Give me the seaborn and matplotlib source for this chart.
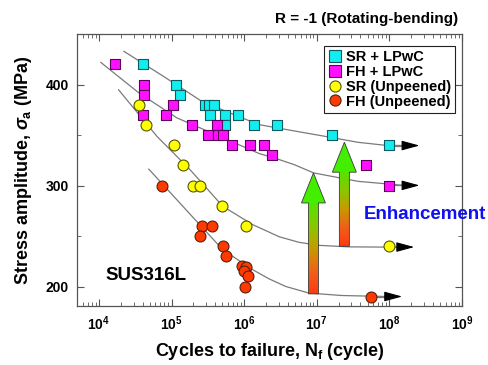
import matplotlib
matplotlib.use("Agg")
import matplotlib.pyplot as plt
import numpy as np
import seaborn as sns
from matplotlib.colors import LinearSegmentedColormap
from matplotlib.lines import Line2D
from matplotlib.patches import Polygon
from matplotlib.ticker import LogLocator, MultipleLocator, NullFormatter

# S-N data: cycles to failure and stress amplitude (MPa)
sr_lpwc_cycles = [4.0e4, 1.15e5, 1.3e5, 2.9e5, 3.3e5, 3.8e5, 3.4e5, 5.4e5, 8.2e5,
                  5.4e5, 1.35e6, 2.8e6, 1.6e7, 1.0e8]
sr_lpwc_stress = [420, 400, 390, 380, 380, 380, 370, 370, 370,
                  360, 360, 360, 350, 340]

fh_lpwc_cycles = [1.67e4, 4.2e4, 4.2e4, 1.05e5, 4.1e4, 8.3e4, 1.9e5, 4.2e5, 3.2e5,
                  4.4e5, 5.1e5, 6.9e5, 1.2e6, 1.9e6, 2.4e6, 4.7e7, 1.0e8]
fh_lpwc_stress = [420, 400, 390, 380, 370, 370, 360, 360, 350,
                  350, 350, 340, 340, 340, 330, 320, 300]

sr_unp_cycles = [3.6e4, 4.5e4, 1.07e5, 1.43e5, 2.0e5, 2.45e5, 4.9e5, 1.05e6, 1.0e8]
sr_unp_stress = [380, 360, 340, 320, 300, 300, 280, 260, 240]

fh_unp_cycles = [7.4e4, 2.6e5, 3.6e5, 2.45e5, 5.1e5, 5.7e5, 9.3e5, 1.05e6, 1.0e6,
                 1.12e6, 1.03e6, 5.6e7]
fh_unp_stress = [300, 260, 260, 250, 240, 230, 221, 220, 216,
                 211, 200, 190]

# trend curves, points
sr_lpwc_curve_x = [2.2e4, 7.8e4, 2.6e5, 8.7e5, 1.6e6, 4.6e6, 1.3e7, 3.7e7, 8.7e7, 1.6e8]
sr_lpwc_curve_y = [433, 408, 383.5, 368, 360.4, 354.5, 348.8, 342.9, 340, 339.7]
fh_lpwc_curve_x = [1.06e4, 3.55e4, 1.19e5, 4.6e5, 1.62e6, 2.47e6, 4.9e6, 9.1e6, 3.7e7, 1.6e8]
fh_lpwc_curve_y = [422, 391.8, 367, 348.8, 331.7, 328, 320.8, 312.6, 304.3, 300.3]
sr_unp_curve_x = [1.86e4, 6.3e4, 1.8e5, 5.1e5, 1.32e6, 3.04e6, 5.7e6, 1.07e7, 2.75e7, 7.8e7, 1.4e8]
sr_unp_curve_y = [395, 348.8, 315.8, 279.5, 261.4, 249.5, 244, 241, 239.5, 239.3, 239.3]
fh_unp_curve_x = [4.85e4, 2.22e5, 5.1e5, 1.32e6, 2.2e6, 3.75e6, 7.8e6, 2.2e7, 9.2e7]
fh_unp_curve_y = [316.5, 264.7, 236.6, 216.8, 207.9, 200.3, 193.8, 191.4, 190.4]

# run-out arrows at the end of each curve
runout_start = [1.6e8, 1.6e8, 1.4e8, 9.2e7]
runout_end = [2.6e8, 2.6e8, 2.2e8, 1.5e8]
runout_level = [339.7, 300.3, 239.3, 190.4]

# enhancement arrows
enh_cycles = [9.0e6, 2.4e7]
enh_from = [193, 240]
enh_to = [312.6, 343]

labels = ["SR + LPwC", "FH + LPwC", "SR (Unpeened)", "FH (Unpeened)"]
colors = ["#11eef0", "#ff11ff", "#ffff00", "#ff3a00"]
edges = ["#0a5a60", "#5a005a", "#555500", "#552010"]
markers = ["s", "s", "o", "o"]

sns.set_style("ticks")
plt.rcParams["font.family"] = ["Liberation Sans", "DejaVu Sans"]
plt.rcParams["font.weight"] = "bold"
plt.rcParams["axes.labelweight"] = "bold"
plt.rcParams["text.color"] = "black"
plt.rcParams["axes.labelcolor"] = "black"
plt.rcParams["xtick.labelcolor"] = "black"
plt.rcParams["ytick.labelcolor"] = "black"
plt.rcParams["mathtext.fontset"] = "custom"
plt.rcParams["mathtext.rm"] = "Liberation Sans:bold"
plt.rcParams["mathtext.it"] = "Liberation Sans:italic:bold"
plt.rcParams["mathtext.bf"] = "Liberation Sans:bold"

fig = plt.figure(figsize=(4.89, 3.65), dpi=100)
ax = fig.add_axes([0.1575, 0.1616, 0.7873, 0.7452])
ax.set_xscale("log")
ax.set_xlim(5e3, 1e9)
ax.set_ylim(181, 450)

line_kw = dict(color="#7a7a7a", lw=0.9, zorder=1)
curves = [(sr_lpwc_curve_x, sr_lpwc_curve_y), (fh_lpwc_curve_x, fh_lpwc_curve_y),
          (sr_unp_curve_x, sr_unp_curve_y), (fh_unp_curve_x, fh_unp_curve_y)]
for cx, cy in curves:
    sns.lineplot(x=cx, y=cy, sort=False, estimator=None, ax=ax, **line_kw)

for x0, x1, lev in zip(runout_start, runout_end, runout_level):
    ax.plot([x0 / 1.6, x0], [lev, lev], **line_kw)
    ax.annotate("", xy=(x1, lev), xytext=(x0, lev),
                arrowprops=dict(arrowstyle="-|>,head_length=1.1,head_width=0.3",
                                color="black", lw=0.8, shrinkA=0, shrinkB=0,
                                mutation_scale=10))

# gradient "enhancement" arrows, built in pixels then placed in axes coords
grad_cmap = LinearSegmentedColormap.from_list(
    "enh", ["#ff3a10", "#f0601a", "#c89a00", "#88c800", "#55e400"])
to_axes = ax.transAxes.inverted()
for xc, y0, y1 in zip(enh_cycles, enh_from, enh_to):
    (px, pb), = ax.transData.transform([(xc, y0)])
    (_, pt), = ax.transData.transform([(xc, y1)])
    sw, hw, hl = 5, 12, 30
    ph = pt - hl
    verts_px = [(px - sw, pb), (px + sw, pb), (px + sw, ph), (px + hw, ph),
                (px, pt), (px - hw, ph), (px - sw, ph)]
    verts = to_axes.transform(verts_px)
    poly = Polygon(verts, closed=True, transform=ax.transAxes, facecolor="none",
                   edgecolor="#3a3a3a", lw=0.6, zorder=2.6)
    ax.add_patch(poly)
    rows = np.linspace(pb, pt, 200)
    t = np.clip((rows - pb) / (ph - pb), 0, 1)
    img = grad_cmap(t).reshape(-1, 1, 4)
    img[rows > ph] = matplotlib.colors.to_rgba("#44ee00")
    xa0, ya0 = to_axes.transform((px - hw, pb))
    xa1, ya1 = to_axes.transform((px + hw, pt))
    im = ax.imshow(img, extent=[xa0, xa1, ya0, ya1], origin="lower",
                   transform=ax.transAxes, aspect="auto", zorder=2.5)
    im.set_clip_path(poly)

groups = [(sr_lpwc_cycles, sr_lpwc_stress), (fh_lpwc_cycles, fh_lpwc_stress),
          (sr_unp_cycles, sr_unp_stress), (fh_unp_cycles, fh_unp_stress)]
for (gx, gy), c, e, m in zip(groups, colors, edges, markers):
    sns.scatterplot(x=gx, y=gy, marker=m, color=c, edgecolor=e, linewidth=0.8,
                    s=62, ax=ax, zorder=3, legend=False)

ax.set_xscale("log")
ax.set_xlim(5e3, 1e9)
ax.set_ylim(181, 450)
ax.xaxis.set_major_locator(LogLocator(base=10, numticks=12))
ax.xaxis.set_minor_locator(LogLocator(base=10, subs=np.arange(2, 10), numticks=12))
ax.xaxis.set_minor_formatter(NullFormatter())
ax.yaxis.set_major_locator(MultipleLocator(100))
ax.yaxis.set_minor_locator(MultipleLocator(50))
ax.tick_params(which="both", direction="in", top=True, right=True,
               color="#555555", labelsize=10, pad=6)
ax.tick_params(which="major", length=5, width=0.8)
ax.tick_params(which="minor", length=3, width=0.6)
for sp in ax.spines.values():
    sp.set_color("#555555")
    sp.set_linewidth(0.9)

ax.set_xlabel(r"Cycles to failure, N$_\mathrm{f}$ (cycle)", fontsize=13, labelpad=6)
ax.set_ylabel(r"Stress amplitude, $\sigma_\mathrm{a}$ (MPa)", fontsize=13, labelpad=8)

handles = [Line2D([], [], ls="none", marker=m, markerfacecolor=c, markeredgecolor=e,
                  markersize=8, markeredgewidth=0.8)
           for c, e, m in zip(colors, edges, markers)]
leg = ax.legend(handles, labels, loc="upper right", bbox_to_anchor=(0.982, 0.956),
                borderaxespad=0, fancybox=False, framealpha=1, edgecolor="#222222",
                prop=dict(family="Liberation Sans", weight="bold", size=10.5),
                handlelength=0.9, handletextpad=0.3, labelspacing=0.05,
                borderpad=0.3)
leg.get_frame().set_linewidth(0.8)
for txt in leg.get_texts():
    txt.set_color("black")

ax.text(0.753, 1.055, "R = -1 (Rotating-bending)", transform=ax.transAxes,
        ha="center", va="center", fontsize=11)
ax.text(0.075, 0.112, "SUS316L", transform=ax.transAxes, ha="left", va="center",
        fontsize=13.5)
ax.text(0.745, 0.335, "Enhancement", transform=ax.transAxes, ha="left", va="center",
        fontsize=13.5, color="#1010ee", clip_on=False)

fig.savefig("out.png", dpi=100)
